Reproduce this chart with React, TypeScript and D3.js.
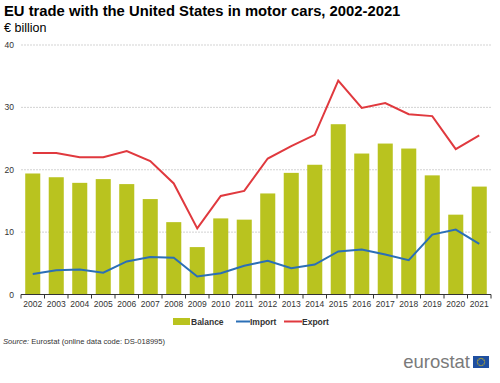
import React from "react";
import * as d3 from "d3";

const years = ["2002","2003","2004","2005","2006","2007","2008","2009","2010","2011","2012","2013","2014","2015","2016","2017","2018","2019","2020","2021"];
const balance = [19.4,18.8,17.9,18.5,17.7,15.3,11.6,7.6,12.2,12.0,16.2,19.5,20.8,27.3,22.6,24.2,23.4,19.1,12.8,17.3];
const importVals = [3.3,3.9,4.0,3.5,5.3,6.0,5.9,2.9,3.4,4.6,5.4,4.2,4.8,6.9,7.2,6.4,5.5,9.6,10.4,8.1];
const exportVals = [22.7,22.7,22.0,22.0,23.0,21.4,17.8,10.6,15.8,16.6,21.8,23.8,25.6,34.3,29.9,30.7,28.9,28.6,23.3,25.5];
const yTicks = [0,10,20,30,40];

const W = 500, H = 383;
const left = 21, right = 491, top = 45, bottom = 294.5;

export default function App() {
  const x = d3.scaleBand<string>().domain(years).range([left, right]).paddingInner(0.36).paddingOuter(0.18);
  const y = d3.scaleLinear().domain([0, 40]).range([bottom, top]);
  const bandStep = (right - left) / years.length;
  const line = d3.line<number>().x((_, i) => (x(years[i]) as number) + x.bandwidth() / 2).y(d => y(d));
  const font = "Arial, 'Liberation Sans', sans-serif";
  return (
    <svg width={W} height={H} style={{ position: "absolute", left: 0, top: 0 }} fontFamily={font}>
      <rect width={W} height={H} fill="#fff" />
      <text x={4} y={16} fontSize={14.8} fontWeight="bold" fill="#000">EU trade with the United States in motor cars, 2002-2021</text>
      <text x={4} y={32} fontSize={12.5} fill="#000">€ billion</text>
      {yTicks.map(t => (
        <g key={t}>
          {t > 0 && <line x1={left} x2={right} y1={y(t)} y2={y(t)} stroke="#c8c8c8" strokeDasharray="2,1" strokeWidth={0.8} />}
          <text x={14} y={y(t) + 3} fontSize={8.5} textAnchor="end" fill="#333">{t}</text>
        </g>
      ))}
      {balance.map((v, i) => (
        <rect key={i} x={x(years[i])} y={y(v)} width={x.bandwidth()} height={y(0) - y(v)} fill="#b9c31f" />
      ))}
      <path d={line(importVals) || ""} fill="none" stroke="#2b6fb6" strokeWidth={2} />
      <path d={line(exportVals) || ""} fill="none" stroke="#e0393e" strokeWidth={2} />
      <line x1={left} x2={right} y1={bottom} y2={bottom} stroke="#333" strokeWidth={1} />
      {d3.range(years.length + 1).map(i => (
        <line key={i} x1={left + i * bandStep} x2={left + i * bandStep} y1={bottom} y2={bottom + 4} stroke="#333" strokeWidth={1} />
      ))}
      {years.map(yr => (
        <text key={yr} x={(x(yr) as number) + x.bandwidth() / 2} y={307} fontSize={8.5} textAnchor="middle" fill="#333">{yr}</text>
      ))}
      <rect x={173} y={318} width={17} height={7} fill="#b9c31f" />
      <text x={191} y={325} fontSize={8.5} fontWeight="bold" fill="#333">Balance</text>
      <line x1={236} x2={250} y1={321.5} y2={321.5} stroke="#2b6fb6" strokeWidth={2} />
      <text x={250} y={325} fontSize={8.5} fontWeight="bold" fill="#333">Import</text>
      <line x1={284} x2={302} y1={321.5} y2={321.5} stroke="#e0393e" strokeWidth={2} />
      <text x={302} y={325} fontSize={8.5} fontWeight="bold" fill="#333">Export</text>
      <text x={3} y={344} fontSize={7.6} fill="#333"><tspan fontStyle="italic">Source:</tspan> Eurostat (online data code: DS-018995)</text>
      <text x={470} y={368} fontSize={18.5} textAnchor="end" fill="#7a7a7a">eurostat</text>
      <rect x={473} y={356} width={16} height={12} fill="#1f4fa0" />
      {d3.range(12).map(k => {
        const a = (k / 12) * 2 * Math.PI;
        return <circle key={k} cx={481 + 3.6 * Math.cos(a)} cy={362 + 3.6 * Math.sin(a)} r={0.6} fill="#f5d000" />;
      })}
    </svg>
  );
}
